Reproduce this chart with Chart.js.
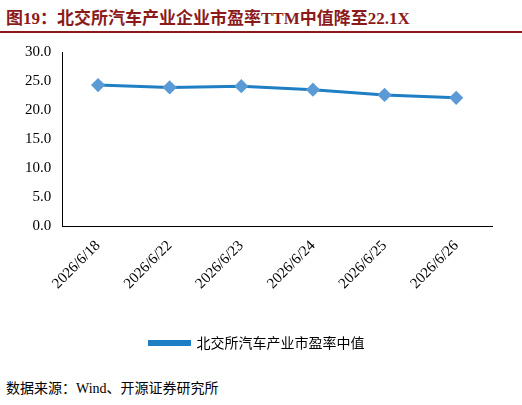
<!DOCTYPE html>
<html><head><meta charset="utf-8">
<script src="https://cdn.jsdelivr.net/npm/chart.js@4.4.0/dist/chart.umd.min.js"></script>
<style>
body{margin:0;width:522px;height:405px;background:#fff;font-family:"Noto Sans CJK SC","Liberation Serif",serif;position:relative;overflow:hidden}
#title{position:absolute;left:6px;top:4px;font-size:17px;font-weight:bold;color:#8b1a1a;font-family:"Liberation Serif","Noto Sans CJK SC",serif}
#rule{position:absolute;left:0;top:31px;width:522px;height:2px;background:#8b1a1a}
#wrap{position:absolute;left:0;top:38px;width:522px;height:322px}
#src{position:absolute;left:6px;top:377px;font-size:14px;color:#000;font-family:"Liberation Serif","Noto Sans CJK SC",serif}
</style></head><body>
<div id="title">图19：北交所汽车产业企业市盈率TTM中值降至22.1X</div>
<div id="rule"></div>
<div id="wrap"><canvas id="c"></canvas></div>
<div id="src">数据来源：Wind、开源证券研究所</div>
<script>
const labels = ['2026/6/18','2026/6/22','2026/6/23','2026/6/24','2026/6/25','2026/6/26'];
const peMedian = [24.3, 23.9, 24.1, 23.5, 22.6, 22.1];
const yTicks = [0, 5, 10, 15, 20, 25, 30];

new Chart(document.getElementById('c'), {
  type: 'line',
  data: {
    labels,
    datasets: [{
      label: '北交所汽车产业市盈率中值',
      data: peMedian,
      borderColor: '#1f7fc4',
      backgroundColor: '#5b9bd5',
      borderWidth: 3,
      pointStyle: 'rectRot',
      pointRadius: 5,
      pointBorderColor: '#5b9bd5',
      tension: 0
    }]
  },
  options: {
    responsive: true, maintainAspectRatio: false, animation: false,
    layout: { padding: { left: 22, right: 30, top: 14 } },
    plugins: {
      legend: {
        position: 'bottom',
        labels: { boxWidth: 40, boxHeight: 3, color: '#000', padding: 6,
          font: { size: 14, family: 'Noto Sans CJK SC' } }
      },
      tooltip: { enabled: false }
    },
    scales: {
      x: {
        offset: true,
        grid: { display: false },
        border: { color: '#000' },
        afterFit: a => { a.height = 104; },
        ticks: { maxRotation: 45, minRotation: 45, color: '#000',
          font: { size: 15, family: 'Liberation Serif' } }
      },
      y: {
        min: 0, max: 30,
        afterBuildTicks: s => { s.ticks = yTicks.map(v => ({ value: v })); },
        grid: { display: false },
        border: { color: '#000' },
        ticks: { color: '#000', font: { size: 15, family: 'Liberation Serif' },
          callback: v => v.toFixed(1) }
      }
    }
  }
});
</script>
</body></html>
